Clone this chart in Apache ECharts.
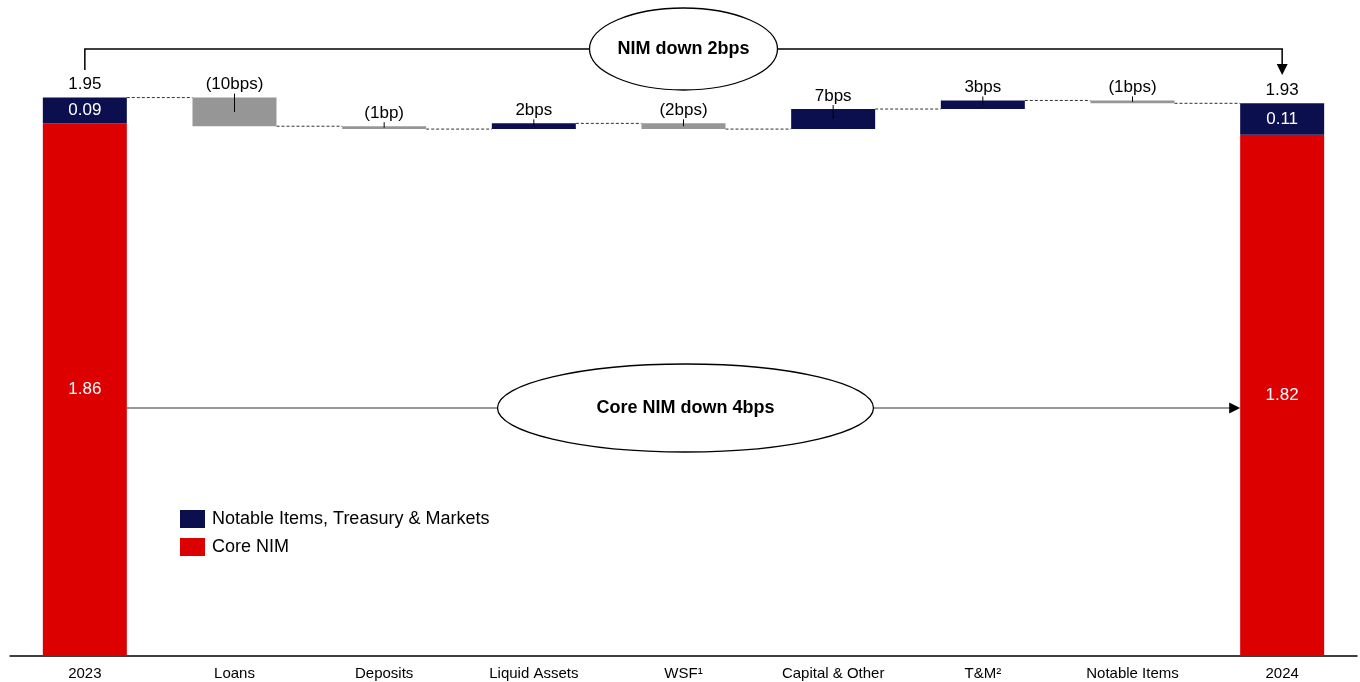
<!doctype html>
<html>
<head>
<meta charset="utf-8">
<title>NIM waterfall</title>
<style>
  html, body { margin: 0; padding: 0; background: #fff; }
  #main { width: 1360px; height: 682px; }
</style>
</head>
<body>
<div id="main"></div>
<script src="https://cdn.jsdelivr.net/npm/echarts@6/dist/echarts.min.js"></script>
<script>

var categories = ['2023', 'Loans', 'Deposits', 'Liquid Assets', 'WSF¹', 'Capital & Other', 'T&M²', 'Notable Items', '2024'];
var coreNim = [1.86, null, null, null, null, null, null, null, 1.82];
var notableTM = [0.09, null, null, null, null, null, null, null, 0.11];
var deltaBps = [null, -10, -1, 2, -2, 7, 3, -1, null];
var deltaLabels = ['', '(10bps)', '(1bp)', '2bps', '(2bps)', '7bps', '3bps', '(1bps)', ''];
var topNote = 'NIM down 2bps';
var coreNote = 'Core NIM down 4bps';

var NAVY = '#0c0f4e';
var RED = '#dc0000';
var GREY = '#969696';
var BAR_W = 84;
var FONT = "'Liberation Sans', Arial, sans-serif";

// running level of the waterfall
var startTotal = +(coreNim[0] + notableTM[0]).toFixed(4);
var endTotal = +(coreNim[8] + notableTM[8]).toFixed(4);
var levels = [startTotal];
var deltaData = [];
for (var i = 1; i < categories.length - 1; i++) {
    var from = levels[i - 1];
    var to = +(from + deltaBps[i] / 100).toFixed(4);
    levels.push(to);
    deltaData.push([i, from, to, deltaBps[i]]);
}
levels.push(endTotal);

var connectorData = [];
for (var j = 0; j < categories.length - 1; j++) {
    connectorData.push([j, levels[j]]);
}
var totalData = [[0, startTotal], [categories.length - 1, endTotal]];

function renderDelta(params, api) {
    var idx = api.value(0), from = api.value(1), to = api.value(2), bps = api.value(3);
    var label = deltaLabels[idx];
    var pHi = api.coord([idx, Math.max(from, to)]);
    var pLo = api.coord([idx, Math.min(from, to)]);
    var top = pHi[1];
    var h = Math.max(pLo[1] - top, 2.6);
    var x = pHi[0];
    return {
        type: 'group',
        children: [
            { type: 'rect', shape: { x: x - BAR_W / 2, y: top, width: BAR_W, height: h },
              style: { fill: bps > 0 ? NAVY : GREY } },
            { type: 'line', shape: { x1: x, y1: top - 4, x2: x, y2: top + h / 2 },
              style: { stroke: '#000', lineWidth: 1 } },
            { type: 'text', x: x, y: top - 13,
              style: { text: label, fill: '#000', font: '17px ' + FONT, align: 'center', verticalAlign: 'middle' } }
        ]
    };
}

function renderConnector(params, api) {
    var idx = api.value(0), lv = api.value(1);
    var p0 = api.coord([idx, lv]);
    var p1 = api.coord([idx + 1, lv]);
    return {
        type: 'line',
        shape: { x1: p0[0] + BAR_W / 2, y1: p0[1], x2: p1[0] - BAR_W / 2, y2: p1[1] },
        style: { stroke: '#333', lineWidth: 1, lineDash: [3, 2] }
    };
}

function renderTotal(params, api) {
    var p = api.coord([api.value(0), api.value(1)]);
    return {
        type: 'text', x: p[0], y: p[1] - 13,
        style: { text: api.value(1).toFixed(2), fill: '#000', font: '17px ' + FONT, align: 'center', verticalAlign: 'middle' }
    };
}

var chart = echarts.init(document.getElementById('main'));

chart.setOption({
    animation: false,
    grid: { left: 10, right: 3, top: 26, bottom: 26 },
    legend: {
        data: ['Notable Items, Treasury & Markets', 'Core NIM'],
        orient: 'vertical',
        left: 180, top: 510,
        padding: 0,
        itemWidth: 25, itemHeight: 18, itemGap: 10,
        icon: 'rect',
        textStyle: { fontSize: 18, color: '#000', fontFamily: FONT, padding: [0, 0, 0, 2] }
    },
    xAxis: {
        type: 'category',
        data: categories,
        axisTick: { show: false },
        axisLine: { lineStyle: { color: '#000', width: 1.5 } },
        axisLabel: { color: '#000', fontSize: 15, fontFamily: FONT, margin: 10, interval: 0 }
    },
    yAxis: {
        type: 'value', min: 0, max: 2.2, show: false,
        splitLine: { show: false }
    },
    series: [
        {
            name: 'Core NIM', type: 'bar', stack: 'total', barWidth: BAR_W,
            data: coreNim,
            itemStyle: { color: RED },
            label: { show: true, position: 'inside', color: '#fff', fontSize: 17, fontFamily: FONT,
                     formatter: function (p) { return p.value.toFixed(2); } }
        },
        {
            name: 'Notable Items, Treasury & Markets', type: 'bar', stack: 'total', barWidth: BAR_W,
            data: notableTM,
            itemStyle: { color: NAVY },
            label: { show: true, position: 'inside', color: '#fff', fontSize: 17, fontFamily: FONT,
                     formatter: function (p) { return p.value.toFixed(2); } }
        },
        { name: 'connectors', type: 'custom', renderItem: renderConnector, data: connectorData, z: 1, silent: true },
        { name: 'deltas', type: 'custom', renderItem: renderDelta, data: deltaData, z: 3, silent: true },
        { name: 'totals', type: 'custom', renderItem: renderTotal, data: totalData, z: 3, silent: true }
    ]
});

// annotations placed against the category positions
var n = categories.length - 1;
var x0 = chart.convertToPixel({ gridIndex: 0 }, [0, 0])[0];
var x1 = chart.convertToPixel({ gridIndex: 0 }, [n, 0])[0];
var midX = (x0 + x1) / 2;
var bracketY = 49, bracketDrop = 70, arrowEnd = 75;
var coreY = 408;

chart.setOption({
    graphic: [
        { type: 'polyline', shape: { points: [[x0, bracketDrop], [x0, bracketY], [x1, bracketY], [x1, arrowEnd - 10]] },
          style: { stroke: '#000', lineWidth: 1.5, fill: null } },
        { type: 'polygon', shape: { points: [[x1 - 5.5, arrowEnd - 11], [x1 + 5.5, arrowEnd - 11], [x1, arrowEnd]] },
          style: { fill: '#000' } },
        { type: 'ellipse', shape: { cx: midX, cy: bracketY, rx: 94, ry: 41 },
          style: { fill: '#fff', stroke: '#000', lineWidth: 1.3 } },
        { type: 'text', x: midX, y: bracketY,
          style: { text: topNote, font: 'bold 18px ' + FONT, fill: '#000', align: 'center', verticalAlign: 'middle' } },

        { type: 'line', shape: { x1: x0 + BAR_W / 2, y1: coreY, x2: x1 - BAR_W / 2 - 10, y2: coreY },
          style: { stroke: '#333', lineWidth: 1.2 } },
        { type: 'polygon', shape: { points: [[x1 - BAR_W / 2 - 11, coreY - 5.5], [x1 - BAR_W / 2, coreY], [x1 - BAR_W / 2 - 11, coreY + 5.5]] },
          style: { fill: '#000' } },
        { type: 'ellipse', shape: { cx: midX + 2, cy: coreY, rx: 188, ry: 44 },
          style: { fill: '#fff', stroke: '#000', lineWidth: 1.3 } },
        { type: 'text', x: midX + 2, y: coreY,
          style: { text: coreNote, font: 'bold 18px ' + FONT, fill: '#000', align: 'center', verticalAlign: 'middle' } }
    ]
});

window.addEventListener('resize', function () {
    chart.resize();
});
</script>
</body>
</html>
